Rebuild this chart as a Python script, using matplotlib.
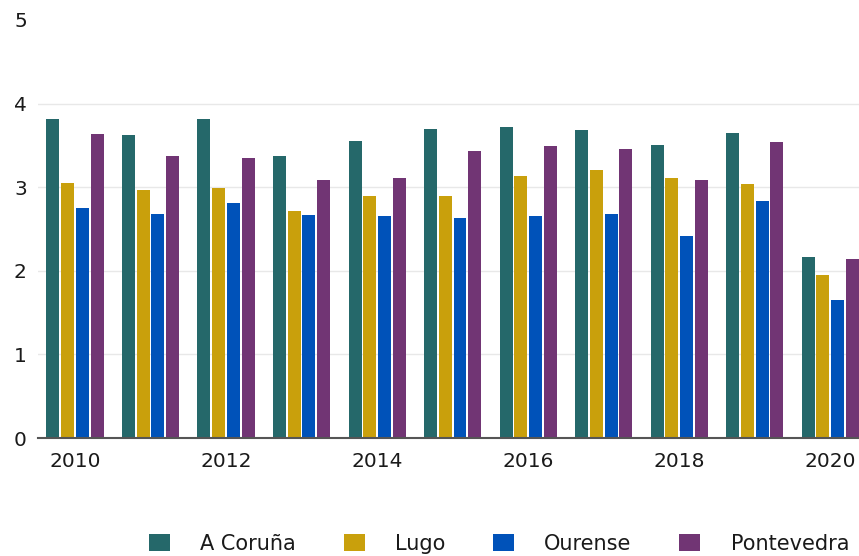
import numpy as np
import matplotlib.pyplot as plt

# values
years = [2010, 2011, 2012, 2013, 2014, 2015, 2016, 2017, 2018, 2019, 2020]
coruna = [3.81, 3.62, 3.81, 3.37, 3.55, 3.70, 3.72, 3.68, 3.51, 3.65, 2.16]
lugo = [3.05, 2.96, 2.99, 2.71, 2.89, 2.90, 3.13, 3.20, 3.11, 3.04, 1.95]
ourense = [2.75, 2.68, 2.81, 2.67, 2.65, 2.63, 2.66, 2.68, 2.42, 2.84, 1.65]
pontevedra = [3.64, 3.37, 3.35, 3.09, 3.11, 3.43, 3.49, 3.46, 3.09, 3.54, 2.14]

names = ["A Coruña", "Lugo", "Ourense", "Pontevedra"]
colors = ["#25686a", "#c9a00c", "#0052b9", "#713574"]
series = [coruna, lugo, ourense, pontevedra]

plt.rcParams['font.family'] = ['DejaVu Sans']

fig = plt.figure(figsize=(8.59, 5.56), dpi=100)
ax = fig.add_axes([0.0442, 0.2122, 0.9558, 0.752])

x = np.arange(len(years))
slot = 0.195
for i, (vals, name, col) in enumerate(zip(series, names, colors)):
    ax.bar(x + (i - 1.5) * slot, vals, width=0.172, color=col, label=name, zorder=3)

ax.set_ylim(0, 5)
ax.set_xlim(-0.49, 10.38)
ax.set_yticks([0, 1, 2, 3, 4, 5])
ax.set_xticks(x[::2])
ax.set_xticklabels([str(y) for y in years[::2]])
ax.tick_params(axis='both', length=0, labelsize=14.5, colors='#1a1a1a')
ax.tick_params(axis='y', pad=8)
ax.tick_params(axis='x', pad=10)

for yv in [1, 2, 3, 4]:
    ax.axhline(yv, color='#e8e8e8', lw=1, zorder=1)
for s in ['top', 'right', 'left']:
    ax.spines[s].set_visible(False)
ax.spines['bottom'].set_color('#555555')
ax.spines['bottom'].set_linewidth(1.5)
ax.spines['bottom'].set_zorder(4)

fig.legend(loc='center', bbox_to_anchor=(0.581, 0.022), ncol=4, frameon=False,
           fontsize=15, handlelength=1.0, handleheight=0.9,
           handletextpad=1.45, columnspacing=2.3, labelcolor='#1a1a1a')

fig.savefig('out.png', dpi=100)
